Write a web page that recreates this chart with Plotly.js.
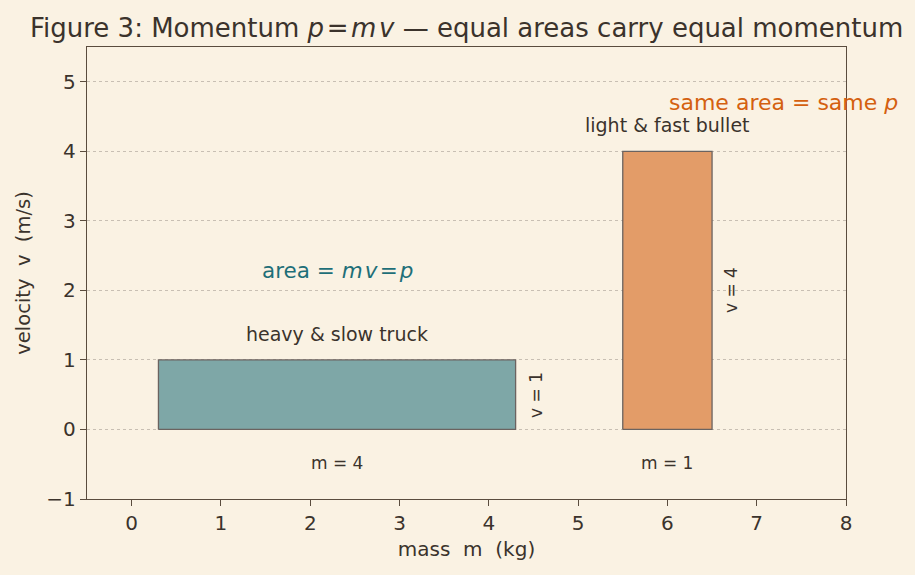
<!DOCTYPE html>
<html><head><meta charset="utf-8">
<script src="https://cdn.plot.ly/plotly-3.0.1.min.js"></script>
<style>body{margin:0;background:#faf2e3;}</style>
</head><body><div id="c" style="width:915px;height:575px"></div>
<script>
const objects = ["heavy & slow truck", "light & fast bullet"];
const masses = [4, 1];
const velocities = [1, 4];
const centers = [2.3, 6.0];
const fills = ["#7ea7a7", "#e39c68"];

const FONT = "DejaVu Sans, sans-serif";
const TXT = "#3b332c";
const traces = [];
const annotations = [];
for (let i = 0; i < masses.length; i++) {
  const x0 = centers[i] - masses[i] / 2, x1 = centers[i] + masses[i] / 2;
  traces.push({
    type: "scatter", mode: "lines", fill: "toself",
    x: [x0, x1, x1, x0, x0], y: [0, 0, velocities[i], velocities[i], 0],
    fillcolor: fills[i], line: {color: "#6b6360", width: 1.3},
    hoverinfo: "skip", showlegend: false
  });
  annotations.push({x: centers[i], y: velocities[i] + 0.38, text: objects[i], showarrow: false,
    font: {family: FONT, size: 19, color: TXT}});
  annotations.push({x: centers[i], y: -0.48, text: "m = " + masses[i], showarrow: false,
    font: {family: FONT, size: 17, color: TXT}});
  annotations.push({x: x1 + 0.22, y: velocities[i] / 2, text: "v = " + velocities[i], showarrow: false,
    textangle: -90, font: {family: FONT, size: 17, color: TXT}});
}
annotations.push({x: 2.3, y: 2.28, text: "area = <i>m</i>&#8202;<i>v</i>&#8202;=&#8202;<i>p</i>", showarrow: false,
  font: {family: FONT, size: 21.5, color: "#1e6f78"}});
annotations.push({x: 6.0, y: 4.7, xanchor: "left", text: "same area = same <i>p</i>", showarrow: false,
  font: {family: FONT, size: 22, color: "#d4600f"}});

const layout = {
  width: 915, height: 575,
  paper_bgcolor: "#faf2e3", plot_bgcolor: "#faf2e3",
  margin: {l: 87, r: 69, t: 47, b: 76},
  font: {family: FONT, color: TXT},
  title: {text: "Figure 3: Momentum <i>p</i>&#8202;=&#8202;<i>m</i>&#8202;<i>v</i> — equal areas carry equal momentum",
    x: 0.51, xanchor: "center", y: 0.968, font: {family: FONT, size: 26, color: TXT}},
  xaxis: {range: [-0.5, 8], tickvals: [0,1,2,3,4,5,6,7,8], showgrid: false, zeroline: false,
    showline: true, linecolor: "#5a4c3e", linewidth: 1.3, mirror: true,
    ticks: "outside", ticklen: 6, tickcolor: "#5a4c3e",
    tickfont: {size: 20, color: TXT},
    title: {text: "mass&nbsp;&nbsp;m&nbsp;&nbsp;(kg)", font: {size: 20, color: TXT}, standoff: 7}},
  yaxis: {range: [-1, 5.5], tickvals: [-1,0,1,2,3,4,5], ticktext: ["−1","0","1","2","3","4","5"],
    showgrid: true, gridcolor: "#c8bfb3", griddash: "dot", gridwidth: 1, zeroline: false,
    showline: true, linecolor: "#5a4c3e", linewidth: 1.3, mirror: true,
    ticks: "outside", ticklen: 6, tickcolor: "#5a4c3e",
    tickfont: {size: 20, color: TXT},
    title: {text: "velocity&nbsp;&nbsp;v&nbsp;&nbsp;(m/s)", font: {size: 19.5, color: TXT}, standoff: 10}},
  annotations: annotations
};
Plotly.newPlot("c", traces, layout, {displayModeBar: false});
</script></body></html>
